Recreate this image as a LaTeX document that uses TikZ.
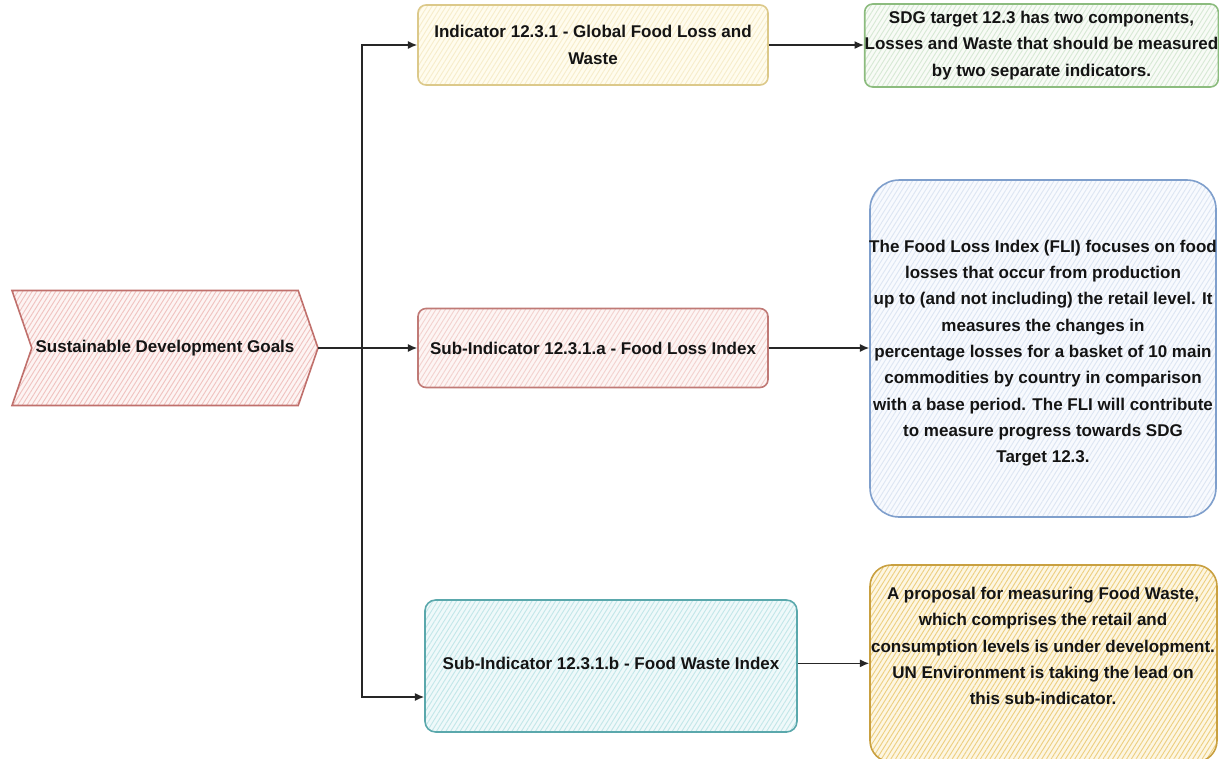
\documentclass[tikz,border=0pt]{standalone}
\usepackage{fontspec}
\setmainfont{Liberation Sans}
\usetikzlibrary{arrows.meta,patterns.meta,shapes.symbols}

\definecolor{sdgline}{HTML}{C0706C}
\definecolor{sdgfill}{HTML}{FDF4F3}
\definecolor{sdghatch}{HTML}{F0C3C0}
\definecolor{indline}{HTML}{DCC98A}
\definecolor{indfill}{HTML}{FFFCEE}
\definecolor{indhatch}{HTML}{F7EDCB}
\definecolor{tgtline}{HTML}{8CBC7E}
\definecolor{tgtfill}{HTML}{F8FBF6}
\definecolor{tgthatch}{HTML}{D7E9D5}
\definecolor{flaline}{HTML}{C07A76}
\definecolor{flafill}{HTML}{FDF5F4}
\definecolor{flahatch}{HTML}{F3D2CF}
\definecolor{fliline}{HTML}{7F9FCC}
\definecolor{flifill}{HTML}{F8FAFE}
\definecolor{flihatch}{HTML}{DDE6F3}
\definecolor{fwiline}{HTML}{5AA8AC}
\definecolor{fwifill}{HTML}{EFF9FA}
\definecolor{fwihatch}{HTML}{C3E7E9}
\definecolor{wstline}{HTML}{C9A040}
\definecolor{wstfill}{HTML}{FDF6E2}
\definecolor{wsthatch}{HTML}{EDCF80}

\tikzset{
  txt/.style={font=\fontsize{12.75pt}{19.75pt}\selectfont\bfseries, align=center, text=black!92},
  card/.style n args={3}{draw=#1, line width=1.2pt, preaction={fill=#2},
    pattern={Lines[angle=58,distance=3pt,line width=0.7pt]}, pattern color=#3,
    inner sep=0pt},
  size/.style n args={2}{minimum width=#1*0.75pt, minimum height=#2*0.75pt},
  conn/.style={draw=black!85, line width=1pt, -{Latex[length=7pt,width=6pt]}},
}

\begin{document}
\begin{tikzpicture}[x=0.75pt,y=-0.75pt]
\useasboundingbox (0,0) rectangle (1219,758);
\clip (0,0) rectangle (1219,758);
\fill[white] (0,0) rectangle (1219,758);

% root chevron
\node[card={sdgline}{sdgfill}{sdghatch}, txt, signal, signal to=east, signal from=west,
      signal pointer angle=142, size={306}{115}]
      (sdg) at (165,348) {Sustainable Development Goals};

% indicator column
\node[card={indline}{indfill}{indhatch}, txt, rounded corners=6pt, size={350}{80}]
      (ind) at (593,45) {Indicator 12.3.1 - Global Food Loss and\\Waste};
\node[card={flaline}{flafill}{flahatch}, txt, rounded corners=6pt, size={350}{79}]
      (suba) at (593,348) {Sub-Indicator 12.3.1.a - Food Loss Index};
\node[card={fwiline}{fwifill}{fwihatch}, txt, rounded corners=8pt, size={372}{132}]
      (subb) at (611,666) {};
\node[txt] (subbtext) at (611,663) {Sub-Indicator 12.3.1.b - Food Waste Index};

% description column
\node[card={tgtline}{tgtfill}{tgthatch}, txt, rounded corners=6pt, size={349}{83}]
      (tgt) at (1041.5,45.5) {SDG target 12.3 has two components,\\Losses and Waste that should be measured\\by two separate indicators.};
\node[card={fliline}{flifill}{flihatch}, rounded corners=22pt, size={346}{337}]
      (fli) at (1043,348.5) {};
\node[txt] (flitext) at (1043,353) {The Food Loss Index (FLI) focuses on food\\losses that occur from production\\up to (and not including) the retail level. It\\measures the changes in\\percentage losses for a basket of 10 main\\commodities by country in comparison\\with a base period. The FLI will contribute\\to measure progress towards SDG\\Target 12.3.};
\node[card={wstline}{wstfill}{wsthatch}, rounded corners=16pt, size={347}{197}]
      (wst) at (1043.5,663.5) {};
\node[txt] (wsttext) at (1043,646) {A proposal for measuring Food Waste,\\which comprises the retail and\\consumption levels is under development.\\UN Environment is taking the lead on\\this sub-indicator.};

% connectors
\coordinate (j) at (362,348);
\draw[conn] (sdg.east) -- (sdg.east -| suba.west);
\draw[conn] (j) |- (ind.west);
\draw[conn] (j) |- ([yshift=-23.25pt]subb.west);
\draw[conn] (ind.east) -- (ind.east -| tgt.west);
\draw[conn] (suba.east) -- (suba.east -| fli.west);
\draw[conn] ([yshift=2pt]subb.east) -- ([yshift=2pt]subb.east -| wst.west);
\end{tikzpicture}
\end{document}
